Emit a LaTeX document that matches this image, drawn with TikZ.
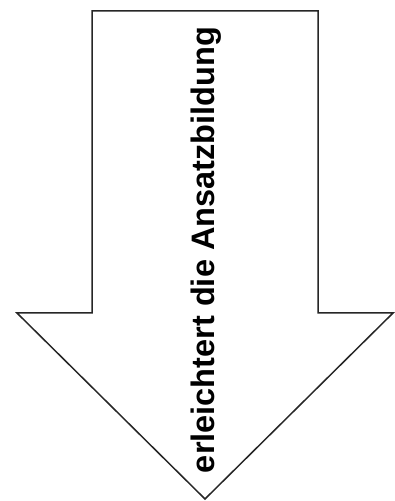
\documentclass[tikz,border=0pt]{standalone}
\usepackage{fontspec}
\setmainfont{Liberation Sans}
\begin{document}
\begin{tikzpicture}[x=1pt,y=1pt,
  arrowshape/.style={draw=black!85,line width=1.5pt,line join=miter,fill=white},
  label/.style={font=\fontsize{32.5}{36}\selectfont\bfseries,rotate=90,inner sep=0pt}]
\useasboundingbox (0,0) rectangle (395,501);
\draw[arrowshape] (92,490) -- (318,490) -- (318,188) -- (393,188) -- (205,2) -- (17,188) -- (92,188) -- cycle;
\node[label] (t) at (206,251) {erleichtert die Ansatzbildung};
\end{tikzpicture}
\end{document}
